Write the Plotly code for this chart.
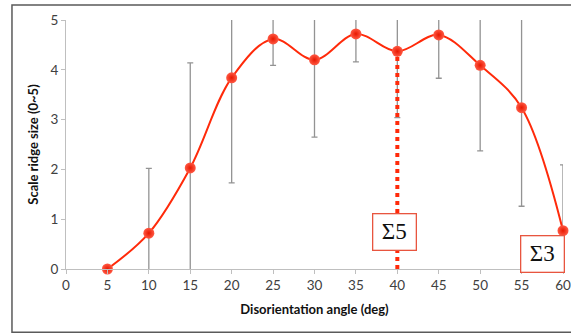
import plotly.graph_objects as go

angles = [5, 10, 15, 20, 25, 30, 35, 40, 45, 50, 55, 60]
ridge = [0.0, 0.72, 2.03, 3.84, 4.62, 4.20, 4.72, 4.37, 4.70, 4.09, 3.24, 0.77]
err = [0.0, 1.30, 2.11, 2.11, 0.53, 1.55, 0.56, 1.33, 0.87, 1.72, 1.98, 1.32]

sigma_angles = [40, 60]
sigma_labels = ["Σ5", "Σ3"]
sigma_label_x = [39.7, 57.5]
sigma_label_y = [0.74, 0.31]

x_ticks = list(range(0, 61, 5))
y_ticks = [0, 1, 2, 3, 4, 5]

RED = "#FF2A0A"

fig = go.Figure()

# error bars (clipped to axes)
fig.add_trace(go.Scatter(
    x=angles, y=ridge, mode="markers",
    marker=dict(color="rgba(0,0,0,0)", size=1),
    error_y=dict(type="data", array=err, symmetric=True, color="#939393",
                 thickness=1.3, width=3),
    cliponaxis=True, showlegend=False, hoverinfo="skip"))

# dotted lines for special boundaries
ridge_at = dict(zip(angles, ridge))
for a in sigma_angles:
    fig.add_trace(go.Scatter(
        x=[a, a], y=[0, ridge_at[a]], mode="lines",
        line=dict(color=RED, width=4, dash="dot"),
        showlegend=False, hoverinfo="skip", cliponaxis=False))

# main curve
fig.add_trace(go.Scatter(
    x=angles, y=ridge, mode="lines+markers",
    line=dict(color=RED, width=2, shape="spline", smoothing=1.0),
    marker=dict(color="#FF5A45", size=11,
                gradient=dict(type="radial", color="#E81800")),
    cliponaxis=False, showlegend=False))

for lbl, lx, ly in zip(sigma_labels, sigma_label_x, sigma_label_y):
    fig.add_annotation(
        x=lx, y=ly, xref="x", yref="y", text=lbl, showarrow=False,
        font=dict(family="Liberation Serif, DejaVu Serif, serif", size=23, color="#111111"),
        bgcolor="white", bordercolor="#E8553F", borderwidth=1.3,
        borderpad=0, width=42, height=35)

axis_font = dict(family="Lato, Open Sans, sans-serif", size=13.5, color="#404040")
title_font = dict(family="Lato, Open Sans, sans-serif", size=13, color="#111111")

fig.update_xaxes(
    range=[0, 60], tickvals=x_ticks, ticktext=[str(t) for t in x_ticks],
    ticks="outside", ticklen=4, tickcolor="#BFBFBF", showline=True,
    linecolor="#BFBFBF", linewidth=1, showgrid=False, zeroline=False,
    tickfont=axis_font, automargin=False,
    title=dict(text="<b>Disorientation angle (deg)</b>", font=title_font, standoff=12))
fig.update_yaxes(
    range=[0, 5], tickvals=y_ticks, ticks="outside", ticklen=4,
    tickcolor="#BFBFBF", showline=True, linecolor="#BFBFBF", linewidth=1,
    showgrid=False, zeroline=False, tickfont=axis_font, automargin=False,
    title=dict(text="<b>Scale ridge size (0~5)</b>", font=title_font, standoff=8))

# outer frame
fig.add_shape(type="rect", xref="paper", yref="paper",
              x0=-0.1087, x1=1.06, y0=-0.2545, y1=1.060,
              line=dict(color="#5A5A5A", width=1.5), fillcolor="rgba(0,0,0,0)",
              layer="below")

fig.update_layout(
    width=571, height=334,
    margin=dict(l=66, r=8, t=20, b=64.5, autoexpand=False),
    paper_bgcolor="white", plot_bgcolor="white",
)

fig.write_html("out.html")
